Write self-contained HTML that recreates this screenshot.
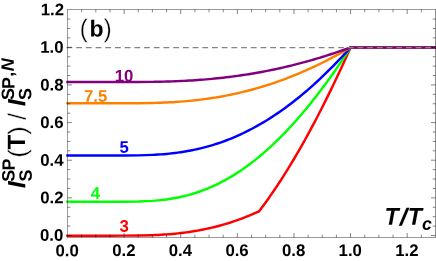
<!DOCTYPE html>
<html><head><meta charset="utf-8"><title>plot</title>
<style>
html,body{margin:0;padding:0;background:#fff;}
body{width:436px;height:261px;overflow:hidden;}
svg{display:block;will-change:transform;font-family:"Liberation Sans",sans-serif;}
</style></head><body>
<svg width="436" height="261" viewBox="0 0 436 261">
<rect width="436" height="261" fill="#fff"/>

<path d="M67.50 235.65 L81.65 235.65 L95.81 235.65 L109.96 235.65 L124.12 235.63 L138.27 235.51 L152.42 235.16 L155.25 235.05 L158.09 234.91 L160.92 234.76 L163.75 234.59 L166.58 234.40 L169.41 234.19 L172.24 233.95 L175.07 233.68 L177.90 233.40 L180.73 233.08 L183.56 232.74 L186.39 232.37 L189.22 231.97 L192.06 231.54 L194.89 231.08 L197.72 230.59 L200.55 230.06 L203.38 229.51 L206.21 228.92 L209.04 228.29 L211.87 227.64 L214.70 226.94 L217.53 226.22 L220.36 225.46 L223.19 224.66 L226.02 223.82 L228.86 222.96 L231.69 222.05 L234.52 221.11 L237.35 220.13 L240.18 219.11 L243.01 218.06 L245.84 216.97 L248.67 215.84 L251.50 214.68 L254.33 213.48 L257.16 212.24 L258.93 211.45 L262.83 206.28 L265.66 202.41 L268.49 198.46 L271.32 194.42 L274.15 190.29 L276.98 186.07 L279.81 181.78 L282.64 177.39 L285.47 172.92 L288.30 168.36 L291.13 163.73 L293.96 159.00 L296.79 154.19 L299.63 149.30 L302.46 144.33 L305.29 139.27 L308.12 134.14 L310.95 128.91 L313.78 123.61 L316.61 118.23 L319.44 112.77 L322.27 107.22 L325.10 101.60 L327.93 95.90 L330.76 90.11 L333.60 84.25 L336.43 78.31 L339.26 72.30 L342.09 66.20 L344.92 60.03 L347.75 53.78 L350.58 47.45 L440.00 47.45" fill="none" stroke="#ff0000" stroke-width="2.45" stroke-linejoin="miter" stroke-linecap="square"/>
<path d="M67.50 201.83 L81.65 201.81 L95.81 201.81 L109.96 201.81 L124.12 201.77 L138.27 201.55 L152.42 200.87 L155.25 200.65 L158.09 200.40 L160.92 200.11 L163.75 199.78 L166.58 199.42 L169.41 199.01 L172.24 198.56 L175.07 198.06 L177.90 197.51 L180.73 196.91 L183.56 196.27 L186.39 195.57 L189.22 194.81 L192.06 194.00 L194.89 193.13 L197.72 192.21 L200.55 191.23 L203.38 190.19 L206.21 189.08 L209.04 187.92 L211.87 186.69 L214.70 185.41 L217.53 184.06 L220.36 182.64 L223.19 181.16 L226.02 179.62 L228.86 178.01 L231.69 176.34 L234.52 174.60 L237.35 172.80 L240.18 170.93 L243.01 169.00 L245.84 167.00 L248.67 164.93 L251.50 162.80 L254.33 160.60 L257.16 158.34 L259.99 156.01 L262.83 153.61 L265.66 151.15 L268.49 148.62 L271.32 146.03 L274.15 143.37 L276.98 140.64 L279.81 137.85 L282.64 135.00 L285.47 132.08 L288.30 129.09 L291.13 126.04 L293.96 122.93 L296.79 119.75 L299.63 116.51 L302.46 113.20 L305.29 109.83 L308.12 106.40 L310.95 102.90 L313.78 99.34 L316.61 95.72 L319.44 92.03 L322.27 88.29 L325.10 84.48 L327.93 80.61 L330.76 76.68 L333.60 72.68 L336.43 68.63 L339.26 64.51 L342.09 60.34 L344.92 56.10 L347.75 51.81 L350.58 47.45 L440.00 47.45" fill="none" stroke="#00ff00" stroke-width="2.45" stroke-linejoin="miter" stroke-linecap="square"/>
<path d="M67.50 155.56 L81.65 155.55 L95.81 155.55 L109.96 155.55 L124.12 155.52 L138.27 155.37 L152.42 154.90 L155.25 154.76 L158.09 154.58 L160.92 154.39 L163.75 154.17 L166.58 153.92 L169.41 153.64 L172.24 153.34 L175.07 153.00 L177.90 152.63 L180.73 152.23 L183.56 151.79 L186.39 151.32 L189.22 150.81 L192.06 150.26 L194.89 149.67 L197.72 149.05 L200.55 148.38 L203.38 147.68 L206.21 146.93 L209.04 146.14 L211.87 145.31 L214.70 144.44 L217.53 143.52 L220.36 142.56 L223.19 141.56 L226.02 140.51 L228.86 139.41 L231.69 138.27 L234.52 137.08 L237.35 135.85 L240.18 134.57 L243.01 133.24 L245.84 131.87 L248.67 130.45 L251.50 128.98 L254.33 127.47 L257.16 125.90 L259.99 124.29 L262.83 122.63 L265.66 120.93 L268.49 119.17 L271.32 117.37 L274.15 115.52 L276.98 113.62 L279.81 111.68 L282.64 109.68 L285.47 107.64 L288.30 105.55 L291.13 103.41 L293.96 101.22 L296.79 98.98 L299.63 96.70 L302.46 94.37 L305.29 91.99 L308.12 89.56 L310.95 87.09 L313.78 84.56 L316.61 81.99 L319.44 79.37 L322.27 76.71 L325.10 73.99 L327.93 71.23 L330.76 68.42 L333.60 65.57 L336.43 62.66 L339.26 59.71 L342.09 56.72 L344.92 53.68 L347.75 50.59 L350.58 47.45 L440.00 47.45" fill="none" stroke="#0000ff" stroke-width="2.45" stroke-linejoin="miter" stroke-linecap="square"/>
<path d="M67.50 103.29 L81.65 103.29 L95.81 103.29 L109.96 103.29 L124.12 103.27 L138.27 103.20 L152.42 102.96 L155.25 102.89 L158.09 102.80 L160.92 102.70 L163.75 102.59 L166.58 102.46 L169.41 102.32 L172.24 102.17 L175.07 101.99 L177.90 101.81 L180.73 101.60 L183.56 101.38 L186.39 101.14 L189.22 100.88 L192.06 100.60 L194.89 100.30 L197.72 99.99 L200.55 99.65 L203.38 99.29 L206.21 98.91 L209.04 98.51 L211.87 98.08 L214.70 97.64 L217.53 97.17 L220.36 96.68 L223.19 96.17 L226.02 95.63 L228.86 95.08 L231.69 94.49 L234.52 93.89 L237.35 93.26 L240.18 92.60 L243.01 91.93 L245.84 91.22 L248.67 90.50 L251.50 89.75 L254.33 88.97 L257.16 88.17 L259.99 87.35 L262.83 86.50 L265.66 85.62 L268.49 84.72 L271.32 83.80 L274.15 82.85 L276.98 81.87 L279.81 80.87 L282.64 79.84 L285.47 78.79 L288.30 77.71 L291.13 76.61 L293.96 75.48 L296.79 74.32 L299.63 73.14 L302.46 71.94 L305.29 70.70 L308.12 69.44 L310.95 68.16 L313.78 66.85 L316.61 65.51 L319.44 64.15 L322.27 62.76 L325.10 61.35 L327.93 59.91 L330.76 58.44 L333.60 56.95 L336.43 55.43 L339.26 53.89 L342.09 52.32 L344.92 50.72 L347.75 49.10 L350.58 47.45 L440.00 47.45" fill="none" stroke="#ff8000" stroke-width="2.45" stroke-linejoin="miter" stroke-linecap="square"/>
<path d="M67.50 82.06 L81.65 82.06 L95.81 82.06 L109.96 82.06 L124.12 82.05 L138.27 82.01 L152.42 81.86 L155.25 81.81 L158.09 81.76 L160.92 81.70 L163.75 81.63 L166.58 81.55 L169.41 81.47 L172.24 81.37 L175.07 81.27 L177.90 81.15 L180.73 81.02 L183.56 80.89 L186.39 80.74 L189.22 80.58 L192.06 80.41 L194.89 80.22 L197.72 80.03 L200.55 79.82 L203.38 79.60 L206.21 79.36 L209.04 79.12 L211.87 78.86 L214.70 78.58 L217.53 78.29 L220.36 77.99 L223.19 77.67 L226.02 77.34 L228.86 77.00 L231.69 76.64 L234.52 76.26 L237.35 75.88 L240.18 75.47 L243.01 75.05 L245.84 74.62 L248.67 74.17 L251.50 73.71 L254.33 73.23 L257.16 72.73 L259.99 72.22 L262.83 71.70 L265.66 71.16 L268.49 70.60 L271.32 70.03 L274.15 69.44 L276.98 68.83 L279.81 68.21 L282.64 67.58 L285.47 66.92 L288.30 66.26 L291.13 65.57 L293.96 64.87 L296.79 64.15 L299.63 63.42 L302.46 62.67 L305.29 61.91 L308.12 61.13 L310.95 60.33 L313.78 59.52 L316.61 58.69 L319.44 57.84 L322.27 56.98 L325.10 56.10 L327.93 55.20 L330.76 54.29 L333.60 53.36 L336.43 52.42 L339.26 51.46 L342.09 50.48 L344.92 49.49 L347.75 48.48 L350.58 47.45 L440.00 47.45" fill="none" stroke="#800080" stroke-width="2.45" stroke-linejoin="miter" stroke-linecap="square"/>
<line x1="66.5" y1="47.5" x2="436" y2="47.5" stroke="#858585" stroke-width="1.25" stroke-dasharray="5.8 3.9"/>
<line x1="67.00" y1="9.50" x2="436.00" y2="9.50" stroke="#000" stroke-opacity="1" stroke-width="0.4"/>
<line x1="67.00" y1="237.50" x2="436.00" y2="237.50" stroke="#000" stroke-opacity="1" stroke-width="0.4"/>
<line x1="67.50" y1="9.50" x2="67.50" y2="237.50" stroke="#000" stroke-opacity="1" stroke-width="0.4"/>
<line x1="435.50" y1="9.50" x2="435.50" y2="237.50" stroke="#000" stroke-opacity="1" stroke-width="0.45"/>
<line x1="81.65" y1="237.50" x2="81.65" y2="234.70" stroke="#000" stroke-opacity="1" stroke-width="0.48"/>
<line x1="81.65" y1="9.50" x2="81.65" y2="12.30" stroke="#000" stroke-opacity="1" stroke-width="0.48"/>
<line x1="95.81" y1="237.50" x2="95.81" y2="234.70" stroke="#000" stroke-opacity="1" stroke-width="0.48"/>
<line x1="95.81" y1="9.50" x2="95.81" y2="12.30" stroke="#000" stroke-opacity="1" stroke-width="0.48"/>
<line x1="109.96" y1="237.50" x2="109.96" y2="234.70" stroke="#000" stroke-opacity="1" stroke-width="0.48"/>
<line x1="109.96" y1="9.50" x2="109.96" y2="12.30" stroke="#000" stroke-opacity="1" stroke-width="0.48"/>
<line x1="124.12" y1="237.50" x2="124.12" y2="233.00" stroke="#000" stroke-opacity="1" stroke-width="0.48"/>
<line x1="124.12" y1="9.50" x2="124.12" y2="14.00" stroke="#000" stroke-opacity="1" stroke-width="0.48"/>
<line x1="138.27" y1="237.50" x2="138.27" y2="234.70" stroke="#000" stroke-opacity="1" stroke-width="0.48"/>
<line x1="138.27" y1="9.50" x2="138.27" y2="12.30" stroke="#000" stroke-opacity="1" stroke-width="0.48"/>
<line x1="152.42" y1="237.50" x2="152.42" y2="234.70" stroke="#000" stroke-opacity="1" stroke-width="0.48"/>
<line x1="152.42" y1="9.50" x2="152.42" y2="12.30" stroke="#000" stroke-opacity="1" stroke-width="0.48"/>
<line x1="166.58" y1="237.50" x2="166.58" y2="234.70" stroke="#000" stroke-opacity="1" stroke-width="0.48"/>
<line x1="166.58" y1="9.50" x2="166.58" y2="12.30" stroke="#000" stroke-opacity="1" stroke-width="0.48"/>
<line x1="180.73" y1="237.50" x2="180.73" y2="233.00" stroke="#000" stroke-opacity="1" stroke-width="0.48"/>
<line x1="180.73" y1="9.50" x2="180.73" y2="14.00" stroke="#000" stroke-opacity="1" stroke-width="0.48"/>
<line x1="194.89" y1="237.50" x2="194.89" y2="234.70" stroke="#000" stroke-opacity="1" stroke-width="0.48"/>
<line x1="194.89" y1="9.50" x2="194.89" y2="12.30" stroke="#000" stroke-opacity="1" stroke-width="0.48"/>
<line x1="209.04" y1="237.50" x2="209.04" y2="234.70" stroke="#000" stroke-opacity="1" stroke-width="0.48"/>
<line x1="209.04" y1="9.50" x2="209.04" y2="12.30" stroke="#000" stroke-opacity="1" stroke-width="0.48"/>
<line x1="223.19" y1="237.50" x2="223.19" y2="234.70" stroke="#000" stroke-opacity="1" stroke-width="0.48"/>
<line x1="223.19" y1="9.50" x2="223.19" y2="12.30" stroke="#000" stroke-opacity="1" stroke-width="0.48"/>
<line x1="237.35" y1="237.50" x2="237.35" y2="233.00" stroke="#000" stroke-opacity="1" stroke-width="0.48"/>
<line x1="237.35" y1="9.50" x2="237.35" y2="14.00" stroke="#000" stroke-opacity="1" stroke-width="0.48"/>
<line x1="251.50" y1="237.50" x2="251.50" y2="234.70" stroke="#000" stroke-opacity="1" stroke-width="0.48"/>
<line x1="251.50" y1="9.50" x2="251.50" y2="12.30" stroke="#000" stroke-opacity="1" stroke-width="0.48"/>
<line x1="265.66" y1="237.50" x2="265.66" y2="234.70" stroke="#000" stroke-opacity="1" stroke-width="0.48"/>
<line x1="265.66" y1="9.50" x2="265.66" y2="12.30" stroke="#000" stroke-opacity="1" stroke-width="0.48"/>
<line x1="279.81" y1="237.50" x2="279.81" y2="234.70" stroke="#000" stroke-opacity="1" stroke-width="0.48"/>
<line x1="279.81" y1="9.50" x2="279.81" y2="12.30" stroke="#000" stroke-opacity="1" stroke-width="0.48"/>
<line x1="293.96" y1="237.50" x2="293.96" y2="233.00" stroke="#000" stroke-opacity="1" stroke-width="0.48"/>
<line x1="293.96" y1="9.50" x2="293.96" y2="14.00" stroke="#000" stroke-opacity="1" stroke-width="0.48"/>
<line x1="308.12" y1="237.50" x2="308.12" y2="234.70" stroke="#000" stroke-opacity="1" stroke-width="0.48"/>
<line x1="308.12" y1="9.50" x2="308.12" y2="12.30" stroke="#000" stroke-opacity="1" stroke-width="0.48"/>
<line x1="322.27" y1="237.50" x2="322.27" y2="234.70" stroke="#000" stroke-opacity="1" stroke-width="0.48"/>
<line x1="322.27" y1="9.50" x2="322.27" y2="12.30" stroke="#000" stroke-opacity="1" stroke-width="0.48"/>
<line x1="336.43" y1="237.50" x2="336.43" y2="234.70" stroke="#000" stroke-opacity="1" stroke-width="0.48"/>
<line x1="336.43" y1="9.50" x2="336.43" y2="12.30" stroke="#000" stroke-opacity="1" stroke-width="0.48"/>
<line x1="350.58" y1="237.50" x2="350.58" y2="233.00" stroke="#000" stroke-opacity="1" stroke-width="0.48"/>
<line x1="350.58" y1="9.50" x2="350.58" y2="14.00" stroke="#000" stroke-opacity="1" stroke-width="0.48"/>
<line x1="364.73" y1="237.50" x2="364.73" y2="234.70" stroke="#000" stroke-opacity="1" stroke-width="0.48"/>
<line x1="364.73" y1="9.50" x2="364.73" y2="12.30" stroke="#000" stroke-opacity="1" stroke-width="0.48"/>
<line x1="378.89" y1="237.50" x2="378.89" y2="234.70" stroke="#000" stroke-opacity="1" stroke-width="0.48"/>
<line x1="378.89" y1="9.50" x2="378.89" y2="12.30" stroke="#000" stroke-opacity="1" stroke-width="0.48"/>
<line x1="393.04" y1="237.50" x2="393.04" y2="234.70" stroke="#000" stroke-opacity="1" stroke-width="0.48"/>
<line x1="393.04" y1="9.50" x2="393.04" y2="12.30" stroke="#000" stroke-opacity="1" stroke-width="0.48"/>
<line x1="407.20" y1="237.50" x2="407.20" y2="233.00" stroke="#000" stroke-opacity="1" stroke-width="0.48"/>
<line x1="407.20" y1="9.50" x2="407.20" y2="14.00" stroke="#000" stroke-opacity="1" stroke-width="0.48"/>
<line x1="421.35" y1="237.50" x2="421.35" y2="234.70" stroke="#000" stroke-opacity="1" stroke-width="0.48"/>
<line x1="421.35" y1="9.50" x2="421.35" y2="12.30" stroke="#000" stroke-opacity="1" stroke-width="0.48"/>
<line x1="67.50" y1="235.50" x2="72.00" y2="235.50" stroke="#000" stroke-opacity="1" stroke-width="0.48"/>
<line x1="435.50" y1="235.50" x2="431.00" y2="235.50" stroke="#000" stroke-opacity="1" stroke-width="0.48"/>
<line x1="67.50" y1="226.09" x2="70.30" y2="226.09" stroke="#000" stroke-opacity="1" stroke-width="0.48"/>
<line x1="435.50" y1="226.09" x2="432.70" y2="226.09" stroke="#000" stroke-opacity="1" stroke-width="0.48"/>
<line x1="67.50" y1="216.68" x2="70.30" y2="216.68" stroke="#000" stroke-opacity="1" stroke-width="0.48"/>
<line x1="435.50" y1="216.68" x2="432.70" y2="216.68" stroke="#000" stroke-opacity="1" stroke-width="0.48"/>
<line x1="67.50" y1="207.27" x2="70.30" y2="207.27" stroke="#000" stroke-opacity="1" stroke-width="0.48"/>
<line x1="435.50" y1="207.27" x2="432.70" y2="207.27" stroke="#000" stroke-opacity="1" stroke-width="0.48"/>
<line x1="67.50" y1="197.86" x2="72.00" y2="197.86" stroke="#000" stroke-opacity="1" stroke-width="0.48"/>
<line x1="435.50" y1="197.86" x2="431.00" y2="197.86" stroke="#000" stroke-opacity="1" stroke-width="0.48"/>
<line x1="67.50" y1="188.45" x2="70.30" y2="188.45" stroke="#000" stroke-opacity="1" stroke-width="0.48"/>
<line x1="435.50" y1="188.45" x2="432.70" y2="188.45" stroke="#000" stroke-opacity="1" stroke-width="0.48"/>
<line x1="67.50" y1="179.04" x2="70.30" y2="179.04" stroke="#000" stroke-opacity="1" stroke-width="0.48"/>
<line x1="435.50" y1="179.04" x2="432.70" y2="179.04" stroke="#000" stroke-opacity="1" stroke-width="0.48"/>
<line x1="67.50" y1="169.63" x2="70.30" y2="169.63" stroke="#000" stroke-opacity="1" stroke-width="0.48"/>
<line x1="435.50" y1="169.63" x2="432.70" y2="169.63" stroke="#000" stroke-opacity="1" stroke-width="0.48"/>
<line x1="67.50" y1="160.22" x2="72.00" y2="160.22" stroke="#000" stroke-opacity="1" stroke-width="0.48"/>
<line x1="435.50" y1="160.22" x2="431.00" y2="160.22" stroke="#000" stroke-opacity="1" stroke-width="0.48"/>
<line x1="67.50" y1="150.81" x2="70.30" y2="150.81" stroke="#000" stroke-opacity="1" stroke-width="0.48"/>
<line x1="435.50" y1="150.81" x2="432.70" y2="150.81" stroke="#000" stroke-opacity="1" stroke-width="0.48"/>
<line x1="67.50" y1="141.40" x2="70.30" y2="141.40" stroke="#000" stroke-opacity="1" stroke-width="0.48"/>
<line x1="435.50" y1="141.40" x2="432.70" y2="141.40" stroke="#000" stroke-opacity="1" stroke-width="0.48"/>
<line x1="67.50" y1="131.99" x2="70.30" y2="131.99" stroke="#000" stroke-opacity="1" stroke-width="0.48"/>
<line x1="435.50" y1="131.99" x2="432.70" y2="131.99" stroke="#000" stroke-opacity="1" stroke-width="0.48"/>
<line x1="67.50" y1="122.58" x2="72.00" y2="122.58" stroke="#000" stroke-opacity="1" stroke-width="0.48"/>
<line x1="435.50" y1="122.58" x2="431.00" y2="122.58" stroke="#000" stroke-opacity="1" stroke-width="0.48"/>
<line x1="67.50" y1="113.17" x2="70.30" y2="113.17" stroke="#000" stroke-opacity="1" stroke-width="0.48"/>
<line x1="435.50" y1="113.17" x2="432.70" y2="113.17" stroke="#000" stroke-opacity="1" stroke-width="0.48"/>
<line x1="67.50" y1="103.76" x2="70.30" y2="103.76" stroke="#000" stroke-opacity="1" stroke-width="0.48"/>
<line x1="435.50" y1="103.76" x2="432.70" y2="103.76" stroke="#000" stroke-opacity="1" stroke-width="0.48"/>
<line x1="67.50" y1="94.35" x2="70.30" y2="94.35" stroke="#000" stroke-opacity="1" stroke-width="0.48"/>
<line x1="435.50" y1="94.35" x2="432.70" y2="94.35" stroke="#000" stroke-opacity="1" stroke-width="0.48"/>
<line x1="67.50" y1="84.94" x2="72.00" y2="84.94" stroke="#000" stroke-opacity="1" stroke-width="0.48"/>
<line x1="435.50" y1="84.94" x2="431.00" y2="84.94" stroke="#000" stroke-opacity="1" stroke-width="0.48"/>
<line x1="67.50" y1="75.53" x2="70.30" y2="75.53" stroke="#000" stroke-opacity="1" stroke-width="0.48"/>
<line x1="435.50" y1="75.53" x2="432.70" y2="75.53" stroke="#000" stroke-opacity="1" stroke-width="0.48"/>
<line x1="67.50" y1="66.12" x2="70.30" y2="66.12" stroke="#000" stroke-opacity="1" stroke-width="0.48"/>
<line x1="435.50" y1="66.12" x2="432.70" y2="66.12" stroke="#000" stroke-opacity="1" stroke-width="0.48"/>
<line x1="67.50" y1="56.71" x2="70.30" y2="56.71" stroke="#000" stroke-opacity="1" stroke-width="0.48"/>
<line x1="435.50" y1="56.71" x2="432.70" y2="56.71" stroke="#000" stroke-opacity="1" stroke-width="0.48"/>
<line x1="67.50" y1="47.30" x2="72.00" y2="47.30" stroke="#000" stroke-opacity="1" stroke-width="0.48"/>
<line x1="435.50" y1="47.30" x2="431.00" y2="47.30" stroke="#000" stroke-opacity="1" stroke-width="0.48"/>
<line x1="67.50" y1="37.89" x2="70.30" y2="37.89" stroke="#000" stroke-opacity="1" stroke-width="0.48"/>
<line x1="435.50" y1="37.89" x2="432.70" y2="37.89" stroke="#000" stroke-opacity="1" stroke-width="0.48"/>
<line x1="67.50" y1="28.48" x2="70.30" y2="28.48" stroke="#000" stroke-opacity="1" stroke-width="0.48"/>
<line x1="435.50" y1="28.48" x2="432.70" y2="28.48" stroke="#000" stroke-opacity="1" stroke-width="0.48"/>
<line x1="67.50" y1="19.07" x2="70.30" y2="19.07" stroke="#000" stroke-opacity="1" stroke-width="0.48"/>
<line x1="435.50" y1="19.07" x2="432.70" y2="19.07" stroke="#000" stroke-opacity="1" stroke-width="0.48"/>
<text transform="translate(63.34 240.88) rotate(0.06)" style="font-size:16.8px;font-weight:700;" fill="#000" text-anchor="end">0.0</text>
<text transform="translate(63.60 203.36) rotate(0.06)" style="font-size:16.8px;font-weight:700;" fill="#000" text-anchor="end">0.2</text>
<text transform="translate(63.60 165.72) rotate(0.06)" style="font-size:16.8px;font-weight:700;" fill="#000" text-anchor="end">0.4</text>
<text transform="translate(63.60 128.08) rotate(0.06)" style="font-size:16.8px;font-weight:700;" fill="#000" text-anchor="end">0.6</text>
<text transform="translate(63.60 90.44) rotate(0.06)" style="font-size:16.8px;font-weight:700;" fill="#000" text-anchor="end">0.8</text>
<text transform="translate(63.60 52.80) rotate(0.06)" style="font-size:16.8px;font-weight:700;" fill="#000" text-anchor="end">1.0</text>
<text transform="translate(63.98 15.15) rotate(0.06)" style="font-size:16.8px;font-weight:700;" fill="#000" text-anchor="end">1.2</text>
<text transform="translate(67.17 256.30) rotate(0.06)" style="font-size:16.8px;font-weight:700;" fill="#000" text-anchor="middle">0.0</text>
<text transform="translate(123.82 256.00) rotate(0.06)" style="font-size:16.8px;font-weight:700;" fill="#000" text-anchor="middle">0.2</text>
<text transform="translate(180.43 256.00) rotate(0.06)" style="font-size:16.8px;font-weight:700;" fill="#000" text-anchor="middle">0.4</text>
<text transform="translate(237.05 256.00) rotate(0.06)" style="font-size:16.8px;font-weight:700;" fill="#000" text-anchor="middle">0.6</text>
<text transform="translate(293.66 256.00) rotate(0.06)" style="font-size:16.8px;font-weight:700;" fill="#000" text-anchor="middle">0.8</text>
<text transform="translate(350.28 256.00) rotate(0.06)" style="font-size:16.8px;font-weight:700;" fill="#000" text-anchor="middle">1.0</text>
<text transform="translate(406.90 256.00) rotate(0.06)" style="font-size:16.8px;font-weight:700;" fill="#000" text-anchor="middle">1.2</text>
<text transform="translate(114.75 81.45) rotate(0.06)" style="font-size:16.8px;font-weight:700;" fill="#800080">10</text>
<text transform="translate(84.01 101.68) rotate(0.06)" style="font-size:16.8px;font-weight:700;" fill="#ff8000">7.5</text>
<text transform="translate(119.42 152.64) rotate(0.06)" style="font-size:16.8px;font-weight:700;" fill="#0000ff">5</text>
<text transform="translate(90.68 198.65) rotate(0.06)" style="font-size:16.8px;font-weight:700;" fill="#00ff00">4</text>
<text transform="translate(119.53 231.86) rotate(0.06)" style="font-size:16.8px;font-weight:700;" fill="#ff0000">3</text>
<text transform="translate(79.82 36.94) rotate(0.06) scale(0.93 1)" style="font-size:25.6px;font-weight:400;stroke:#fff;stroke-width:0.3px;" fill="#000">(</text>
<text transform="translate(89.44 36.51) rotate(0.06)" style="font-size:23px;font-weight:700;" fill="#000">b</text>
<text transform="translate(103.67 36.92) rotate(0.06) scale(0.93 1)" style="font-size:25.6px;font-weight:400;stroke:#fff;stroke-width:0.3px;" fill="#000">)</text>
<text transform="translate(384.60 224.82) rotate(0.06) scale(0.96 1)" style="font-size:24.2px;font-weight:700;font-style:italic;" fill="#000">T</text>
<text transform="translate(399.64 225.15) rotate(0.06) scale(1.1 1)" style="font-size:24.2px;font-weight:700;font-style:italic;" fill="#000">/</text>
<text transform="translate(407.74 224.82) rotate(0.06) scale(0.96 1)" style="font-size:24.2px;font-weight:700;font-style:italic;" fill="#000">T</text>
<text transform="translate(421.88 229.87) rotate(0.06)" style="font-size:17.6px;font-weight:700;font-style:italic;" fill="#000">c</text>
<text transform="translate(25.31 188.15) rotate(-89.9)" style="font-size:25px;font-weight:700;font-style:italic;" fill="#000">I</text>
<text transform="translate(14.42 181.78) rotate(-89.9)" style="font-size:17.9px;font-weight:700;" fill="#000">S</text>
<text transform="translate(14.86 170.38) rotate(-89.9)" style="font-size:17.9px;font-weight:700;" fill="#000">P</text>
<text transform="translate(31.65 181.53) rotate(-89.9)" style="font-size:17.9px;font-weight:700;" fill="#000">S</text>
<text transform="translate(26.06 157.75) rotate(-89.9)" style="font-size:25.4px;font-weight:400;stroke:#fff;stroke-width:0.3px;" fill="#000">(</text>
<text transform="translate(24.92 149.49) rotate(-89.9) scale(0.96 1)" style="font-size:25px;font-weight:700;" fill="#000">T</text>
<text transform="translate(25.94 134.76) rotate(-89.9)" style="font-size:25.4px;font-weight:400;stroke:#fff;stroke-width:0.3px;" fill="#000">)</text>
<text transform="translate(25.74 120.06) rotate(-89.9)" style="font-size:25px;font-weight:400;stroke:#fff;stroke-width:0.3px;" fill="#000">/</text>
<text transform="translate(25.34 106.27) rotate(-89.9)" style="font-size:25px;font-weight:700;font-style:italic;" fill="#000">I</text>
<text transform="translate(13.97 99.97) rotate(-89.9)" style="font-size:17.9px;font-weight:700;" fill="#000">S</text>
<text transform="translate(14.38 89.08) rotate(-89.9)" style="font-size:17.9px;font-weight:700;" fill="#000">P</text>
<text transform="translate(31.33 99.93) rotate(-89.9)" style="font-size:17.9px;font-weight:700;" fill="#000">S</text>
<text transform="translate(13.46 76.83) rotate(-89.9)" style="font-size:17.9px;font-weight:700;" fill="#000">,</text>
<text transform="translate(13.77 71.35) rotate(-89.9)" style="font-size:17.9px;font-weight:700;font-style:italic;" fill="#000">N</text>
</svg>
</body></html>
